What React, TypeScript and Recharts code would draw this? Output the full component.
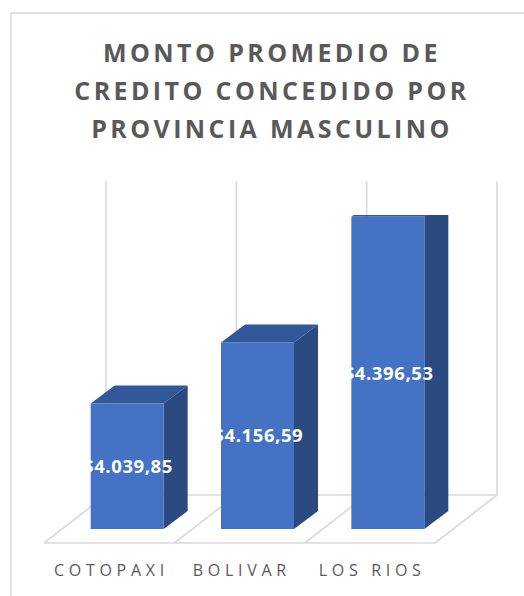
import React from 'react';
import { BarChart, Bar, XAxis, YAxis, LabelList } from 'recharts';

const categories = ['COTOPAXI', 'BOLIVAR', 'LOS RIOS'];
const values = [4039.85, 4156.59, 4396.53];
const labels = ['$4.039,85', '$4.156,59', '$4.396,53'];
const titleLines = ['MONTO PROMEDIO DE', 'CREDITO CONCEDIDO POR', 'PROVINCIA MASCULINO'];
const yDomain = [3800, 4400];

const data = categories.map((name, i) => ({ name, value: values[i], label: labels[i] }));

const W = 524;
const H = 596;
const GAP = 0.22;
const BAR_DX = 24;
const BAR_DY = 18;
const FRONT_DX = -18;
const FRONT_DY = 14;
const BACK_DX = 44;
const BACK_DY = -34;
const GRID = '#D9D9D9';
const FONT = '"Open Sans", "Noto Sans", sans-serif';

const Box3D = (props: any) => {
  const { x, y, width, height } = props;
  if (width == null || height == null) return null;
  const w = width;
  const h = height;
  return (
    <g>
      <polygon
        points={`${x},${y} ${x + BAR_DX},${y - BAR_DY} ${x + w + BAR_DX},${y - BAR_DY} ${x + w},${y}`}
        fill="#33589A"
      />
      <polygon
        points={`${x + w},${y} ${x + w + BAR_DX},${y - BAR_DY} ${x + w + BAR_DX},${y + h - BAR_DY} ${x + w},${y + h}`}
        fill="#2B4A80"
      />
      <rect x={x} y={y} width={w} height={h} fill="#4472C4" />
    </g>
  );
};

const Floor = (props: any) => {
  const { x, y, width, height, index } = props;
  const band = width / (1 - 2 * GAP);
  const cx = x + width / 2;
  const L = cx - band / 2;
  const R = cx + band / 2;
  const base = y + height;
  const top = y;
  const edges = index === categories.length - 1 ? [L, R] : [L];
  return (
    <g stroke={GRID} strokeWidth={1.6} fill="none">
      <line x1={L + FRONT_DX} y1={base + FRONT_DY} x2={R + FRONT_DX} y2={base + FRONT_DY} />
      <line x1={L + BACK_DX} y1={base + BACK_DY} x2={R + BACK_DX} y2={base + BACK_DY} />
      {edges.map((e, k) => (
        <g key={k}>
          <line x1={e + FRONT_DX} y1={base + FRONT_DY} x2={e + BACK_DX} y2={base + BACK_DY} />
          <line x1={e + BACK_DX} y1={base + BACK_DY} x2={e + BACK_DX} y2={top + BACK_DY} />
        </g>
      ))}
    </g>
  );
};

const CatTick = (props: any) => {
  const { x, payload } = props;
  return (
    <text
      x={x + FRONT_DX + 2.3}
      y={576}
      textAnchor="middle"
      fontFamily={FONT}
      fontSize={16}
      letterSpacing={4.7}
      fill="#595959"
    >
      {payload.value}
    </text>
  );
};

const ValueLabel = (props: any) => {
  const { x, y, width, height, index } = props;
  return (
    <text
      x={x + width / 2 + 0.8}
      y={y + height / 2 + 6.7}
      textAnchor="middle"
      fontFamily={FONT}
      fontWeight={700}
      fontSize={18.5}
      letterSpacing={0.6}
      fill="#FFFFFF"
    >
      {labels[index]}
    </text>
  );
};

export default function App() {
  return (
    <div style={{ position: 'absolute', left: 0, top: 0, width: W, height: H, background: '#fff' }}>
      <svg width={W} height={H} style={{ position: 'absolute', left: 0, top: 0 }}>
        <rect x={11} y={13} width={600} height={700} fill="#fff" stroke="#D9D9D9" strokeWidth={1.5} />
        {titleLines.map((t, i) => (
          <text
            key={i}
            x={272}
            y={62 + i * 38}
            textAnchor="middle"
            fontFamily={FONT}
            fontWeight={700}
            fontSize={25}
            letterSpacing={3.4}
            fill="#595959"
          >
            {t}
          </text>
        ))}
      </svg>
      <div style={{ position: 'absolute', left: 0, top: 0 }}>
        <BarChart
          width={W}
          height={H}
          data={data}
          margin={{ top: 215, right: 71, bottom: 37, left: 62 }}
          barCategoryGap="22%"
        >
          <XAxis dataKey="name" axisLine={false} tickLine={false} tick={<CatTick />} height={30} interval={0} />
          <YAxis hide domain={yDomain} allowDataOverflow />
          <Bar dataKey="value" isAnimationActive={false} shape={<Box3D />} background={<Floor />}>
            <LabelList dataKey="label" content={<ValueLabel />} />
          </Bar>
        </BarChart>
      </div>
    </div>
  );
}
